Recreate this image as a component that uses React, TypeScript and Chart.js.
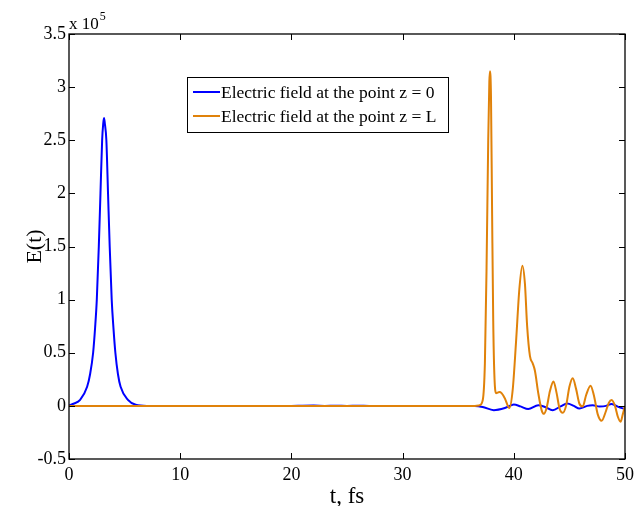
import React, { useEffect, useRef } from 'react';
import { Chart, registerables } from 'chart.js';

Chart.register(...registerables);

// ---- data (values in units of 10^5) ----
const blueT = [0, 0.4, 1.0, 1.63, 1.9, 2.17, 2.35, 2.5, 2.68, 2.83, 2.98, 3.08, 3.15, 3.22, 3.36, 3.51, 3.66, 3.84, 4.0, 4.17, 4.4, 4.64, 5.3, 6.0, 7, 20, 21, 22, 23, 24, 25, 26, 27, 28, 36.5, 37.2, 38.2, 39.3, 40, 40.6, 41.3, 42.2, 42.8, 43.5, 44.2, 44.8, 45.4, 45.9, 46.6, 47.1, 47.7, 48.3, 48.8, 49.4, 50];
const blueV = [0.003, 0.02, 0.056, 0.18, 0.3, 0.5, 0.74, 1.0, 1.5, 2.0, 2.5, 2.66, 2.71, 2.66, 2.5, 2.0, 1.5, 1.0, 0.73, 0.5, 0.3, 0.18, 0.056, 0.01, 0, 0, 0.002, 0.003, 0, 0.002, 0, 0.002, 0, 0, 0, -0.01, -0.04, -0.016, 0.012, -0.005, -0.03, 0.006, -0.01, -0.04, -0.005, 0.022, 0.0, -0.025, 0.0, 0.005, -0.005, 0.0, 0.018, -0.01, -0.03];

const orangeT = [0, 36.5, 36.9, 37.2, 37.4, 37.55, 37.7, 37.8, 37.86, 37.95, 38.05, 38.15, 38.25, 38.4, 38.7, 38.9, 39.2, 39.6, 39.9, 40.2, 40.5, 40.77, 41.0, 41.2, 41.45, 41.7, 41.9, 42.2, 42.5, 42.7, 42.95, 43.25, 43.57, 43.85, 44.1, 44.4, 44.7, 45.0, 45.3, 45.6, 45.9, 46.2, 46.5, 46.9, 47.2, 47.55, 47.9, 48.25, 48.55, 48.8, 49.1, 49.35, 49.6, 49.8, 50];
const orangeV = [0, 0, 0.005, 0.05, 0.4, 1.3, 2.5, 3.05, 3.15, 2.9, 1.8, 0.8, 0.3, 0.12, 0.13, 0.12, 0.07, -0.02, 0.15, 0.6, 1.1, 1.32, 1.15, 0.75, 0.47, 0.4, 0.33, 0.12, -0.04, -0.075, -0.02, 0.14, 0.23, 0.12, -0.02, -0.065, 0.0, 0.18, 0.26, 0.16, 0.02, -0.005, 0.1, 0.19, 0.1, -0.08, -0.14, -0.06, 0.03, 0.056, 0.0, -0.1, -0.15, -0.08, 0];

const legendLabels = ['Electric field at the point z = 0', 'Electric field at the point z = L'];
const xTitle = 't, fs';
const yTitle = 'E(t)';
const exponentBase = 'x 10';
const exponentPower = '5';
const xMin = 0, xMax = 50, xStep = 10;
const yMin = -0.5, yMax = 3.5, yStep = 0.5;

const BLUE = '#0000ff';
const ORANGE = '#e0820a';
const SERIF = '"Liberation Serif", "Times New Roman", serif';

const decorPlugin = {
  id: 'decor',
  afterDraw(chart: any) {
    const { ctx, chartArea } = chart;
    const { left, right, top, bottom } = chartArea;
    const xs = chart.scales.x;
    const ys = chart.scales.y;
    ctx.save();
    ctx.strokeStyle = '#000';
    ctx.lineWidth = 1.3;
    ctx.strokeRect(left, top, right - left, bottom - top);
    ctx.lineWidth = 1;
    const tl = 6;
    ctx.beginPath();
    xs.ticks.forEach((t: any) => {
      const px = Math.round(xs.getPixelForValue(t.value)) + 0.5;
      ctx.moveTo(px, bottom); ctx.lineTo(px, bottom - tl);
      ctx.moveTo(px, top); ctx.lineTo(px, top + tl);
    });
    ys.ticks.forEach((t: any) => {
      const py = Math.round(ys.getPixelForValue(t.value)) + 0.5;
      ctx.moveTo(left, py); ctx.lineTo(left + tl, py);
      ctx.moveTo(right, py); ctx.lineTo(right - tl, py);
    });
    ctx.stroke();

    // axis titles
    ctx.fillStyle = '#000';
    ctx.font = `23px ${SERIF}`;
    ctx.textAlign = 'center';
    ctx.textBaseline = 'middle';
    ctx.fillText(xTitle, (left + right) / 2, 497);
    ctx.save();
    ctx.translate(35, (top + bottom) / 2);
    ctx.rotate(-Math.PI / 2);
    ctx.font = `22px ${SERIF}`;
    ctx.fillText(yTitle, 0, 0);
    ctx.restore();

    // exponent
    ctx.textAlign = 'left';
    ctx.textBaseline = 'alphabetic';
    ctx.font = `17px ${SERIF}`;
    ctx.fillText(exponentBase, left, 29);
    const w = ctx.measureText(exponentBase).width;
    ctx.font = `12px ${SERIF}`;
    ctx.fillText(exponentPower, left + w + 1, 20);

    // legend
    const bx = 187, by = 77, bw = 261, bh = 55;
    ctx.fillStyle = '#fff';
    ctx.fillRect(bx, by, bw, bh);
    ctx.strokeStyle = '#000';
    ctx.lineWidth = 1;
    ctx.strokeRect(bx + 0.5, by + 0.5, bw, bh);
    const rows = [92, 116];
    const cols = [BLUE, ORANGE];
    ctx.font = `17.5px ${SERIF}`;
    ctx.textBaseline = 'middle';
    rows.forEach((ry, i) => {
      ctx.strokeStyle = cols[i];
      ctx.lineWidth = 2;
      ctx.beginPath();
      ctx.moveTo(193, ry); ctx.lineTo(220, ry);
      ctx.stroke();
      ctx.fillStyle = '#000';
      ctx.fillText(legendLabels[i], 221, ry + 1);
    });
    ctx.restore();
  },
};

export default function App() {
  const ref = useRef<HTMLCanvasElement>(null);
  useEffect(() => {
    if (!ref.current) return;
    const chart = new Chart(ref.current, {
      type: 'line',
      data: {
        datasets: [
          {
            label: legendLabels[0],
            data: blueT.map((t, i) => ({ x: t, y: blueV[i] })),
            borderColor: BLUE,
            borderWidth: 2,
            pointRadius: 0,
            cubicInterpolationMode: 'monotone',
            fill: false,
            order: 2,
          },
          {
            label: legendLabels[1],
            data: orangeT.map((t, i) => ({ x: t, y: orangeV[i] })),
            borderColor: ORANGE,
            borderWidth: 2,
            pointRadius: 0,
            cubicInterpolationMode: 'monotone',
            fill: false,
            order: 1,
          },
        ],
      },
      options: {
        responsive: false,
        animation: false,
        layout: { padding: { top: 34, right: 9, left: 0, bottom: 0 } },
        plugins: { legend: { display: false }, tooltip: { enabled: false } },
        scales: {
          x: {
            type: 'linear',
            min: xMin,
            max: xMax,
            grid: { display: false, drawTicks: false },
            border: { display: false },
            ticks: {
              stepSize: xStep,
              color: '#000',
              padding: 5,
              maxRotation: 0,
              font: { family: SERIF, size: 18 },
            },
            afterFit: (s: any) => { s.height = 47; },
          },
          y: {
            type: 'linear',
            min: yMin,
            max: yMax,
            grid: { display: false, drawTicks: false },
            border: { display: false },
            ticks: {
              stepSize: yStep,
              color: '#000',
              padding: 3,
              font: { family: SERIF, size: 18 },
              callback: (v: any) => String(Math.round(Number(v) * 10) / 10),
            },
            afterFit: (s: any) => { s.width = 69; },
          },
        },
      },
      plugins: [decorPlugin],
    } as any);
    return () => chart.destroy();
  }, []);
  return (
    <div style={{ position: 'absolute', left: 0, top: 0, width: 639, height: 506, background: '#fff' }}>
      <canvas ref={ref} width={639} height={506} />
    </div>
  );
}
